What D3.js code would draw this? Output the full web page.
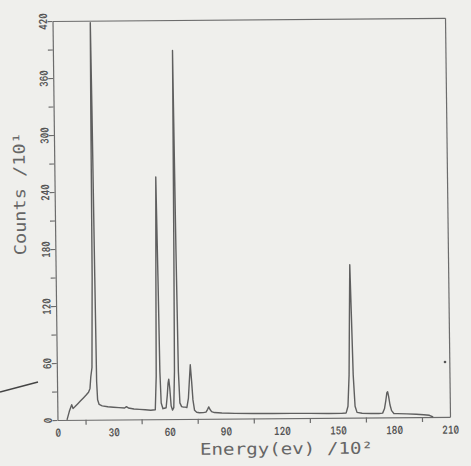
<!DOCTYPE html>
<html>
<head>
<meta charset="utf-8">
<script src="https://cdn.jsdelivr.net/npm/d3@7"></script>
<style>
  html, body { margin: 0; padding: 0; background: #efefec; }
  svg { display: block; }
  .num { font-family: Inter, "DejaVu Sans", sans-serif; font-variant-numeric: slashed-zero tabular-nums; font-feature-settings: "zero" 1, "tnum" 1; }
  .title { font-family: "DejaVu Sans Mono", monospace; }
</style>
</head>
<body>
<svg id="chart" width="471" height="466"></svg>
<script>
// Energy spectrum: energy in units of 10^2 eV, counts in units of 10
const energy = [
  5.1, 6.4, 7.7, 8.4, 9.5, 11, 12.5, 14, 15.5, 16.8, 17.6, 18.1, 18.8,
  19.5, 19.9, 20.2, 20.5, 20.9, 21.2, 21.6, 22.4, 24, 27, 30, 33, 36, 37, 38,
  41, 44, 47, 50, 52.4,
  53.1, 53.6, 54.2, 54.7, 55.1, 55.6, 56.5, 57.3,
  58.2, 58.9, 59.4, 59.8, 60.3, 60.9, 61.6,
  62.3, 62.9, 63.4, 64.0, 64.5, 65.0, 65.6, 66.5, 67.5, 68.5,
  69.3, 70.2, 70.8, 71.4, 72.0, 72.6, 73.4, 74.5, 76, 78, 79.5,
  80.4, 81.0, 81.6, 82.5, 84, 88, 95, 105, 115, 125, 135, 145, 152, 154.5,
  155.5, 156.3, 156.9, 157.4, 157.9, 158.5, 159.3, 160.3, 163, 168, 172,
  174, 175, 175.8, 176.4, 176.8, 177.3, 178, 178.8, 180,
  182, 187, 192, 196, 199, 201
];
const counts = [
  0, 9, 16, 12, 14, 17, 20, 23, 26, 29, 33, 45, 55,
  150, 330, 418, 330, 150, 40, 21, 16, 14.5, 13.5, 13, 12.5, 12, 13.5, 12,
  11, 10.5, 10, 9.5, 10,
  45, 150, 255, 150, 50, 17, 11, 11.5,
  12, 25, 38, 42, 32, 14, 9.5,
  12, 50, 180, 388, 180, 50, 17, 13, 12.5, 12.5,
  12, 22, 40, 57, 40, 20, 9, 7, 6.5, 6.5, 7,
  10, 12.5, 10, 7.5, 6.5, 6, 5.5, 5.2, 5, 5, 4.8, 4.6, 4.6, 5,
  12, 45, 110, 161, 110, 45, 12, 5.5, 4.5, 4.2, 4.2,
  4.5, 9, 18, 26, 27, 22, 13, 7, 4,
  3.8, 3.5, 3, 2.5, 1.8, 0
];

// Axis ticks and labels
const xTickValues = [15, 45, 75, 105, 135, 165, 195];
const xLabelValues = [0, 30, 60, 90, 120, 150, 180, 210];
const yTickValues = [0, 30, 60, 90, 120, 150, 180, 210, 240, 270, 300, 330, 360, 390, 420];
const yLabelValues = [0, 60, 120, 180, 240, 300, 360, 420];
const xTitle = "Energy(ev) /10²";
const yTitle = "Counts /10¹";

const svg = d3.select("#chart");
const W = 471, H = 466;
svg.append("rect").attr("width", W).attr("height", H).attr("fill", "#efefec");

const plotL = 52.5, plotR = 445, plotT = 21, plotB = 420;
const x = d3.scaleLinear().domain([0, 210]).range([plotL, plotR]);
const y = d3.scaleLinear().domain([0, 420]).range([plotB, plotT]);

// the plotted sheet sits slightly askew on the page
const g = svg.append("g")
  .attr("transform", `translate(${plotL},${plotT}) matrix(1,-0.008,0.0125,1,0,0) translate(${-plotL},${-plotT})`);

const ink = "#6c6c6c";

function styleAxis(sel) {
  sel.selectAll("path, line").attr("stroke", ink).attr("stroke-width", 1.2);
}

// frame: top and right edges
g.append("g").attr("transform", `translate(0,${plotT})`)
  .call(d3.axisTop(x).tickValues([]).tickSizeOuter(0)).call(styleAxis);
g.append("g").attr("transform", `translate(${plotR},0)`)
  .call(d3.axisRight(y).tickValues([]).tickSizeOuter(0)).call(styleAxis);

// bottom axis ticks (between labels)
g.append("g").attr("transform", `translate(0,${plotB})`)
  .call(d3.axisBottom(x).tickValues(xTickValues).tickSize(5).tickSizeOuter(0).tickFormat(""))
  .call(styleAxis);

// bottom axis labels
const xl = g.append("g").attr("transform", `translate(0,${plotB})`)
  .call(d3.axisBottom(x).tickValues(xLabelValues).tickSize(0).tickPadding(9).tickFormat(d3.format("d")));
xl.select(".domain").remove();
xl.selectAll("text")
  .attr("class", "num")
  .attr("font-size", 11).attr("font-weight", 600).attr("fill", "#555")
  .attr("textLength", d => String(d).length * 5.6)
  .attr("lengthAdjust", "spacingAndGlyphs");

// left axis ticks
g.append("g").attr("transform", `translate(${plotL},0)`)
  .call(d3.axisLeft(y).tickValues(yTickValues).tickSize(5).tickSizeOuter(0).tickFormat(""))
  .call(styleAxis);

// left axis labels, written upward
const yl = g.append("g").attr("transform", `translate(${plotL},0)`)
  .call(d3.axisLeft(y).tickValues(yLabelValues).tickSize(0).tickFormat(d3.format("d")));
yl.select(".domain").remove();
yl.selectAll("text")
  .attr("class", "num")
  .attr("x", null).attr("dy", null)
  .attr("transform", "translate(-5.5,0) rotate(-90)")
  .attr("text-anchor", "middle")
  .attr("font-size", 11).attr("font-weight", 600).attr("fill", "#555")
  .attr("textLength", d => String(d).length * 5.4)
  .attr("lengthAdjust", "spacingAndGlyphs");

// spectrum trace
const pts = energy.map((e, i) => [e, counts[i]]);
g.append("path")
  .datum(pts)
  .attr("fill", "none")
  .attr("stroke", "#5f5f5f")
  .attr("stroke-width", 1.4)
  .attr("stroke-linejoin", "round")
  .attr("d", d3.line().x(d => x(d[0])).y(d => y(d[1])));

// axis titles
g.append("text")
  .attr("class", "title")
  .attr("x", 194.6).attr("y", 456)
  .attr("font-size", 16).attr("fill", "#666")
  .attr("textLength", 173).attr("lengthAdjust", "spacingAndGlyphs")
  .text(xTitle);

g.append("text")
  .attr("class", "title")
  .attr("transform", "translate(23,193.5) rotate(-90)")
  .attr("text-anchor", "middle")
  .attr("font-size", 16).attr("fill", "#666")
  .attr("textLength", 123).attr("lengthAdjust", "spacingAndGlyphs")
  .text(yTitle);

// stray pen stroke at the left margin and a speck near the right edge
svg.append("line")
  .attr("x1", 0).attr("y1", 392).attr("x2", 38).attr("y2", 382)
  .attr("stroke", "#444").attr("stroke-width", 1.6);
svg.append("circle").attr("cx", 445).attr("cy", 362).attr("r", 1.3).attr("fill", "#555");
</script>
</body>
</html>
